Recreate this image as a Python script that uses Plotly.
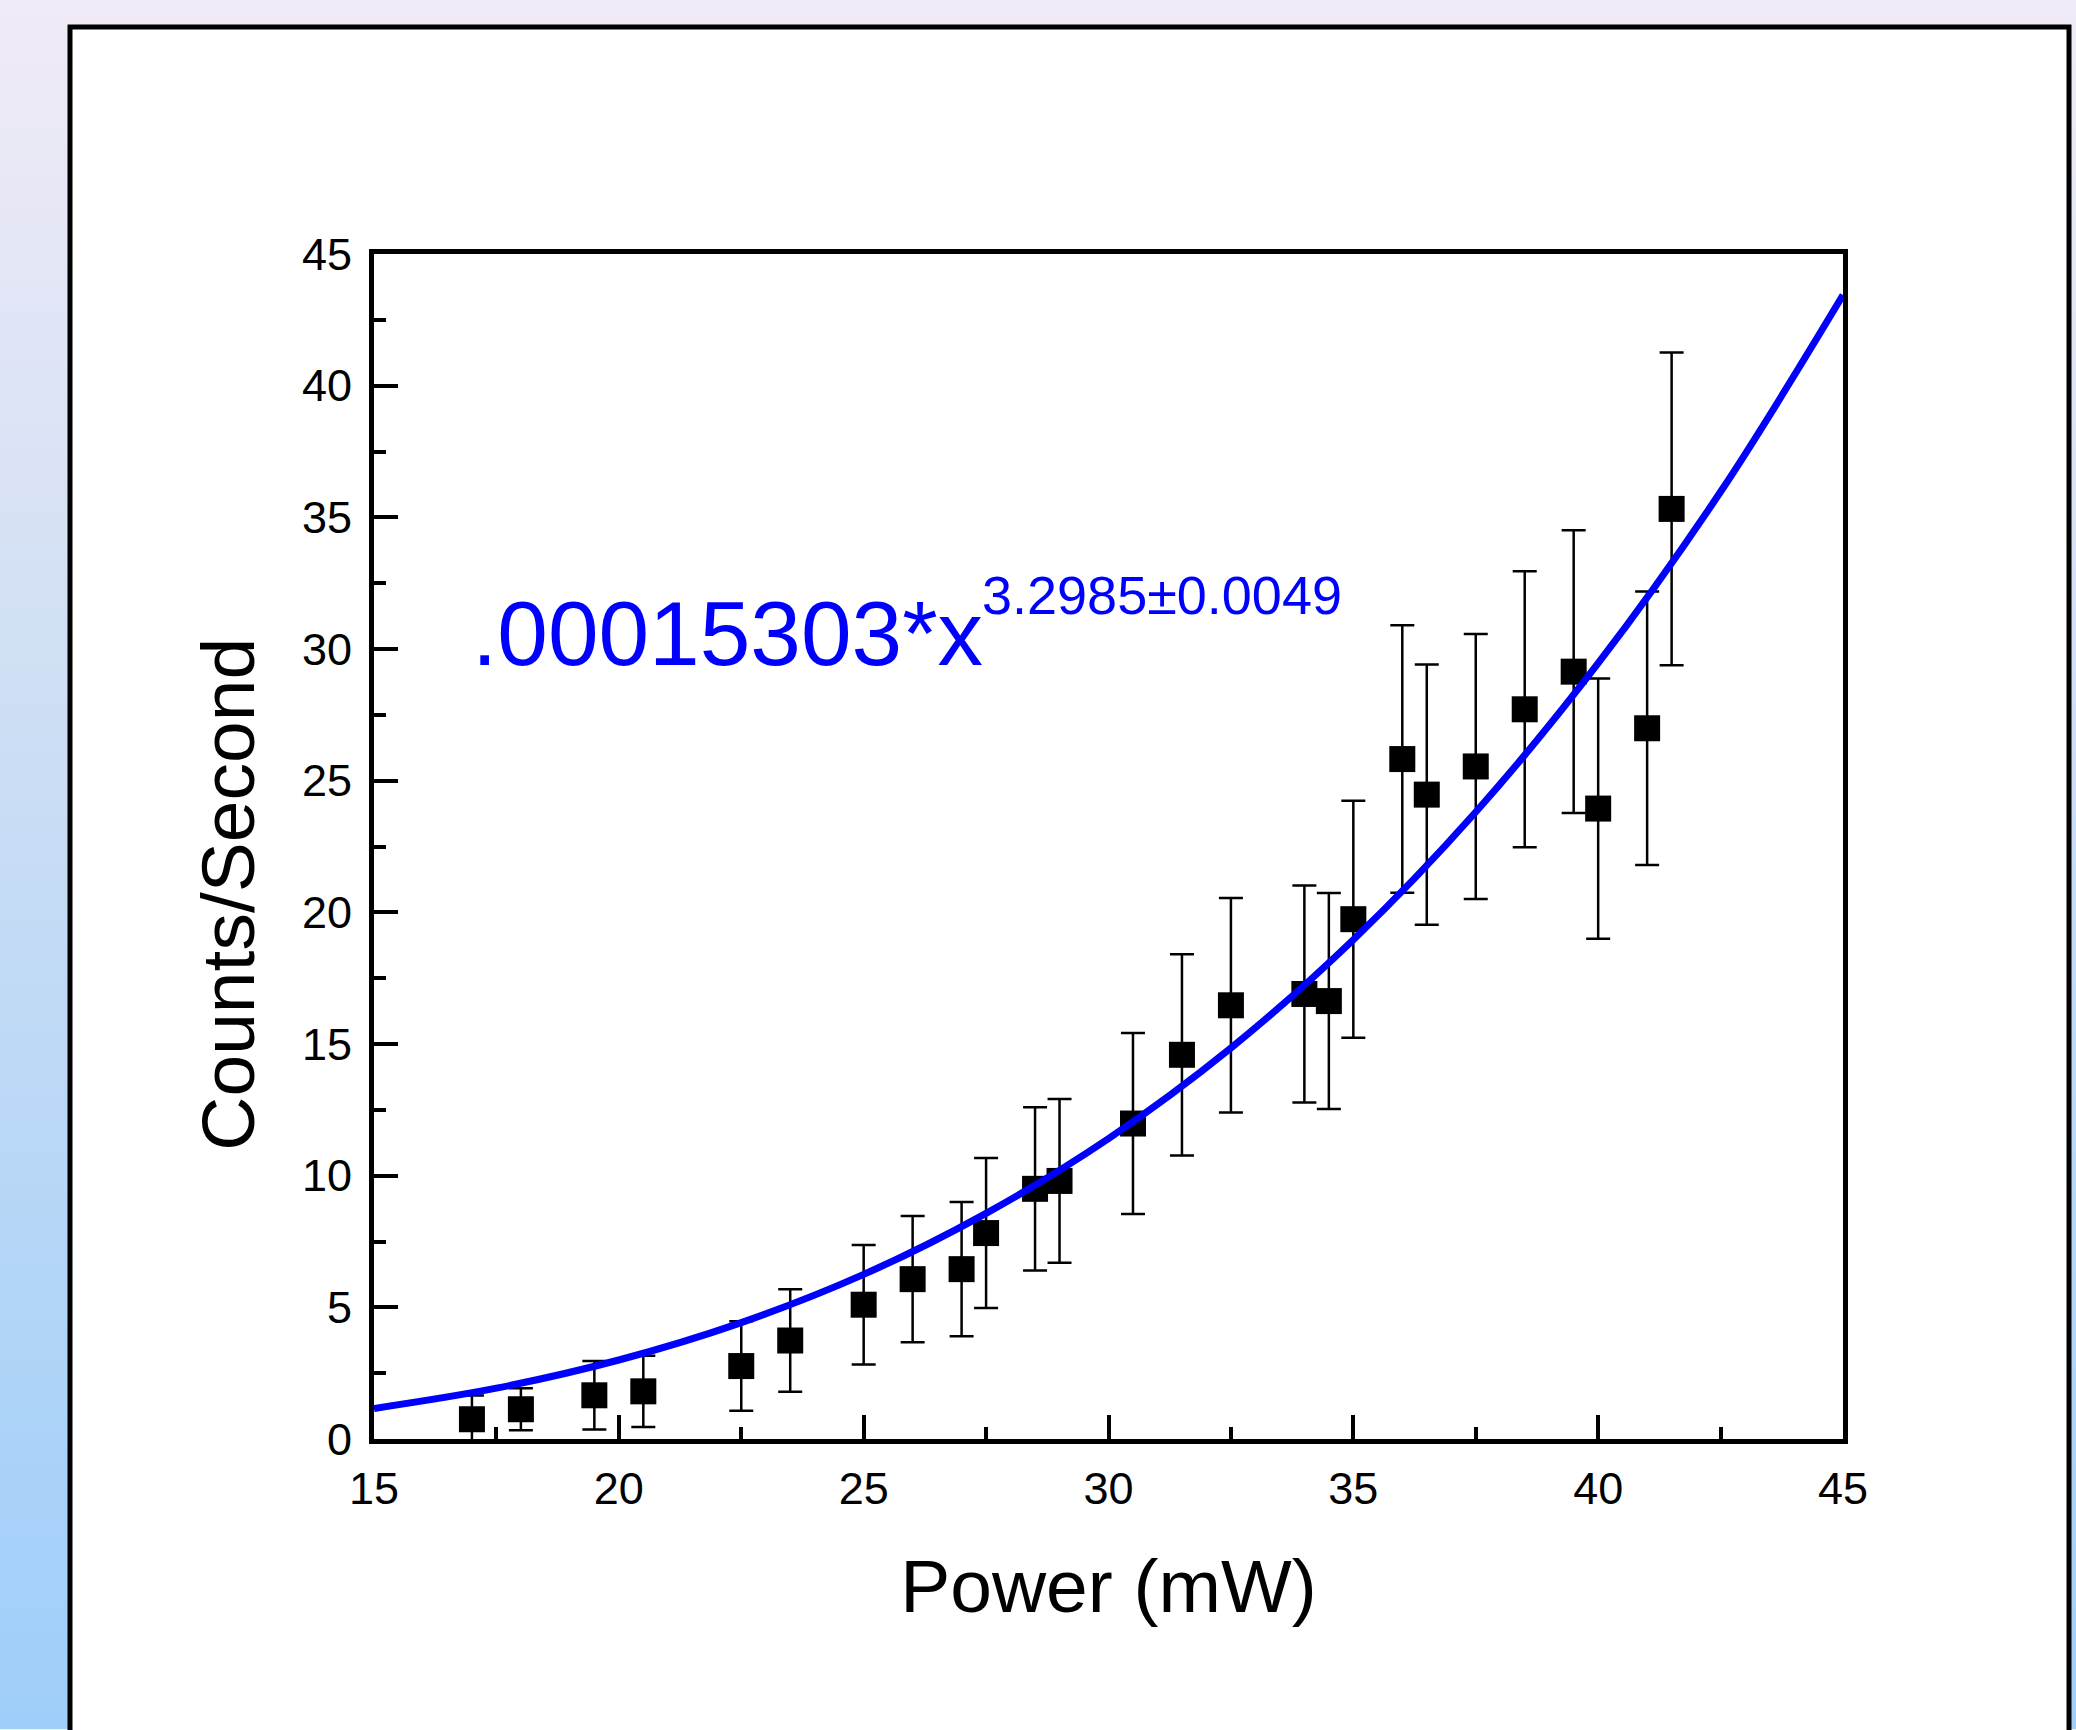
import base64
import plotly.graph_objects as go

# ---- data ----
power_mw = [17, 18, 19.5, 20.5, 22.5, 23.5, 25, 26, 27, 27.5, 28.5, 29, 30.5, 31.5,
            32.5, 34, 34.5, 35, 36, 36.5, 37.5, 38.5, 39.5, 40, 41, 41.5]
counts_per_s = [0.75, 1.13, 1.66, 1.81, 2.77, 3.74, 5.1, 6.07, 6.45, 7.82, 9.5, 9.8, 11.98, 14.59,
                16.47, 16.9, 16.63, 19.74, 25.82, 24.47, 25.54, 27.71, 29.14, 23.94, 26.99, 35.32]
count_err = [0.9, 0.8, 1.3, 1.35, 1.7, 1.95, 2.27, 2.4, 2.55, 2.85, 3.1, 3.11, 3.44, 3.82,
             4.07, 4.12, 4.1, 4.5, 5.08, 4.94, 5.03, 5.24, 5.37, 4.94, 5.19, 5.94]

# fitted curve
fit_x = [15, 17.5, 20, 22.5, 25, 27.5, 30, 32.5, 35, 37.5, 40, 42.5, 45]
fit_y = [1.16, 1.93, 3.00, 4.42, 6.25, 8.57, 11.41, 14.85, 18.96, 23.81, 29.46, 35.97, 43.44]

fit_label = ".00015303*x"
fit_exponent = "3.2985±0.0049"
x_title = "Power (mW)"
y_title = "Counts/Second"

x_ticks = [15, 20, 25, 30, 35, 40, 45]
y_ticks = [0, 5, 10, 15, 20, 25, 30, 35, 40, 45]

# ---- layout geometry (pixels) ----
W, H = 2076, 1730
L, R, T, B = 374, 1843, 254, 1439.5
PW, PH = R - L, B - T


def px(xp):
    return (xp - L) / PW


def py(yp):
    return (B - yp) / PH


FONT = "Liberation Sans, Arial, sans-serif"

fig = go.Figure()

fig.add_trace(go.Scatter(
    x=power_mw, y=counts_per_s, mode="markers",
    marker=dict(symbol="square", size=26, color="black", line=dict(width=0)),
    error_y=dict(type="data", array=count_err, visible=True, color="black",
                 thickness=2.5, width=12),
    showlegend=False,
))

fig.add_trace(go.Scatter(
    x=fit_x, y=fit_y, mode="lines", line=dict(color="#0000FF", width=7, shape="spline"),
    showlegend=False,
))

# gradient page background
svg = ('<svg xmlns="http://www.w3.org/2000/svg" width="100" height="100" '
       'preserveAspectRatio="none"><defs><linearGradient id="g" x1="0" y1="0" x2="0" y2="1">'
       '<stop offset="0" stop-color="#F0EBF6"/><stop offset="0.45" stop-color="#CADDF4"/>'
       '<stop offset="1" stop-color="#9ECEFA"/></linearGradient></defs>'
       '<rect width="100" height="100" fill="url(#g)"/></svg>')
src = "data:image/svg+xml;base64," + base64.b64encode(svg.encode()).decode()

fig.update_layout(
    width=W, height=H,
    margin=dict(l=L, r=W - R, t=T, b=H - B, pad=0),
    paper_bgcolor="#FFFFFF", plot_bgcolor="#FFFFFF",
    font=dict(family=FONT, color="black"),
    images=[dict(source=src, xref="paper", yref="paper", x=px(0), y=py(0),
                 sizex=W / PW, sizey=H / PH, xanchor="left", yanchor="top",
                 sizing="stretch", layer="below")],
    shapes=[dict(type="rect", xref="paper", yref="paper",
                 x0=px(70), x1=px(2069), y0=py(27), y1=py(1800),
                 line=dict(color="black", width=5), fillcolor="white", layer="below")],
)

fig.update_xaxes(
    range=[15, 45], tickvals=x_ticks, ticktext=[str(v) for v in x_ticks],
    ticks="inside", ticklen=24, tickwidth=3.5, tickcolor="black",
    minor=dict(dtick=2.5, tick0=15, ticks="inside", ticklen=12, tickwidth=3.5, tickcolor="black"),
    showline=True, linewidth=5, linecolor="black", mirror=True,
    showgrid=False, zeroline=False, ticklabelstandoff=6,
    tickfont=dict(size=45, family=FONT, color="black"),
    title=dict(text=x_title, font=dict(size=75, family=FONT, color="black"), standoff=48),
)
fig.update_yaxes(
    range=[0, 45], tickvals=y_ticks, ticktext=[str(v) for v in y_ticks],
    ticks="inside", ticklen=24, tickwidth=3.5, tickcolor="black",
    minor=dict(dtick=2.5, tick0=0, ticks="inside", ticklen=12, tickwidth=3.5, tickcolor="black"),
    showline=True, linewidth=5, linecolor="black", mirror=True,
    showgrid=False, zeroline=False, ticklabelstandoff=8,
    tickfont=dict(size=45, family=FONT, color="black"),
)

fig.add_annotation(text=y_title, xref="paper", yref="paper", x=px(228), y=py(895),
                   xanchor="center", yanchor="middle", textangle=-90, showarrow=False,
                   font=dict(size=75, family=FONT, color="black"))
fig.add_annotation(text=fit_label, xref="paper", yref="paper", x=px(470), y=py(634),
                   xanchor="left", yanchor="middle", showarrow=False,
                   font=dict(size=91, family=FONT, color="#0000FF"))
fig.add_annotation(text=fit_exponent, xref="paper", yref="paper", x=px(980), y=py(595),
                   xanchor="left", yanchor="middle", showarrow=False,
                   font=dict(size=54, family=FONT, color="#0000FF"))

fig.write_html("out.html", config={"displayModeBar": False},
               post_script="document.body.style.margin='0';")
